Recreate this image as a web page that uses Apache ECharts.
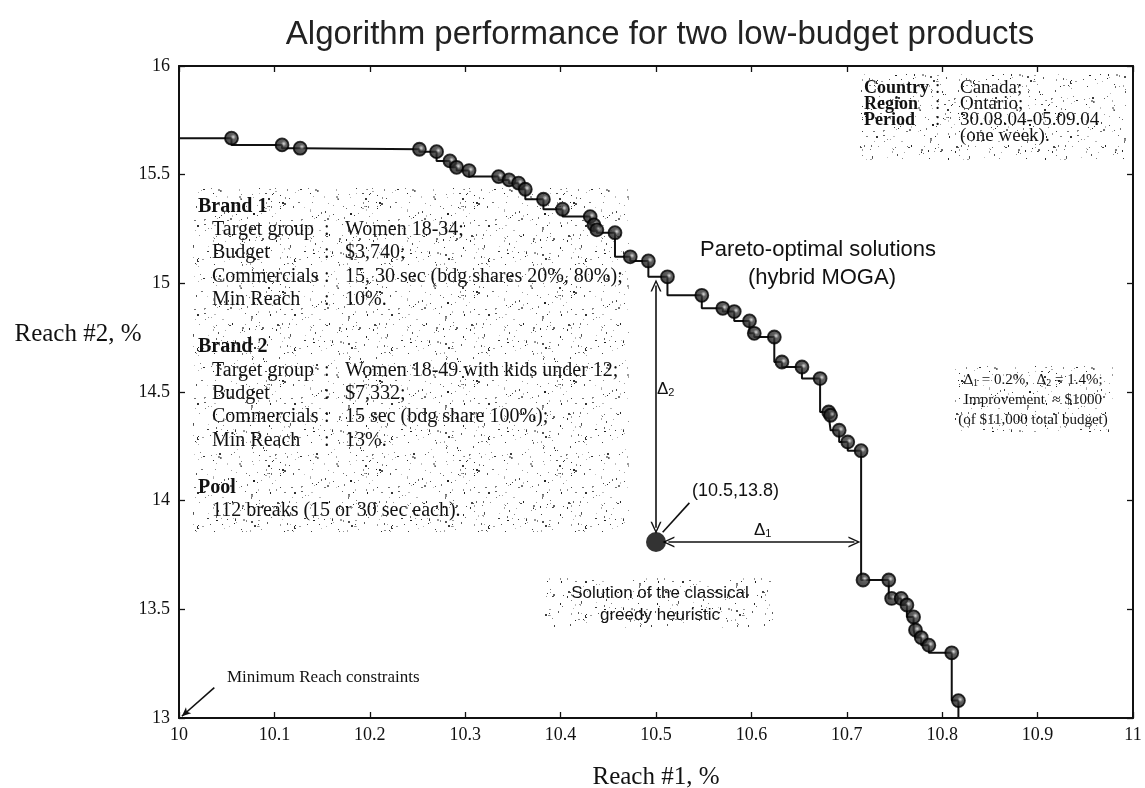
<!DOCTYPE html>
<html><head><meta charset="utf-8">
<script src="https://cdn.jsdelivr.net/npm/echarts@6/dist/echarts.min.js"></script>
<style>html,body{margin:0;padding:0;background:#fff}#c{width:1145px;height:788px}</style>
</head><body><div id="c"></div>
<script>
// ---- data ----
const xTickLabels = ['10','10.1','10.2','10.3','10.4','10.5','10.6','10.7','10.8','10.9','11'];
const yTickLabels = ['13','13.5','14','14.5','15','15.5','16'];
const paretoX = [10.055,10.108,10.127,10.252,10.270,10.284,10.291,10.304,10.335,10.346,10.356,10.363,10.382,10.402,10.431,10.435,10.438,10.457,10.473,10.492,10.512,10.548,10.570,10.582,10.598,10.603,10.624,10.632,10.653,10.672,10.681,10.683,10.692,10.701,10.715,10.717,10.744,10.747,10.757,10.763,10.770,10.772,10.778,10.786,10.810,10.817];
const paretoY = [15.668,15.637,15.622,15.617,15.606,15.563,15.534,15.519,15.491,15.476,15.461,15.433,15.387,15.341,15.307,15.269,15.246,15.233,15.122,15.103,15.030,14.945,14.885,14.870,14.827,14.770,14.753,14.638,14.615,14.562,14.408,14.393,14.324,14.270,14.230,13.635,13.635,13.550,13.550,13.520,13.465,13.405,13.370,13.335,13.300,13.080];
const curveStart = [10.0, 15.668];
const curveEnd = [10.817, 13.0];
const greedy = [10.5, 13.81];
const delta1Range = [10.513, 10.708];   // horizontal arrow (x)
const delta2Range = [13.875, 14.99];    // vertical arrow (y)
const minReachArrow = [[10.037, 13.14], [10.003, 13.008]];
const greedyLeader = [[10.507, 13.855], [10.535, 13.99]];

// ---- speckle texture (deterministic) ----
function makeSpeckle() {
  const c = document.createElement('canvas');
  c.width = 97; c.height = 89;
  const g = c.getContext('2d');
  g.fillStyle = '#ffffff'; g.fillRect(0, 0, c.width, c.height);
  let s = 12345;
  const rnd = () => { s = (s * 1103515245 + 12345) & 0x7fffffff; return s / 0x7fffffff; };
  for (let i = 0; i < 200; i++) {
    const x = Math.floor(rnd() * c.width), y = Math.floor(rnd() * c.height);
    const v = Math.floor(30 + rnd() * 170);
    g.fillStyle = 'rgb(' + v + ',' + v + ',' + v + ')';
    const w = rnd() < 0.2 ? 2 : 1, h = rnd() < 0.3 ? 2 : 1;
    g.fillRect(x, y, w, h);
  }
  return c;
}
const speckle = { image: makeSpeckle(), repeat: 'repeat' };

const SERIF = '"Liberation Serif","Times New Roman",serif';
const SANS = '"Liberation Sans",Arial,sans-serif';

const chart = echarts.init(document.getElementById('c'), null, { renderer: 'canvas' });

const chevron = 'path://M5,0 L10,11 L8.6,11 L5,3 L1.4,11 L0,11 Z';

const linePts = [curveStart].concat(paretoX.map((x, i) => [x, paretoY[i]])).concat([curveEnd]);
const markerPts = paretoX.map((x, i) => [x, paretoY[i]]);

function txt(x, y, text, opt) {
  return Object.assign({ type: 'text', x: x, y: y, z: 10,
    style: Object.assign({ text: text, font: '20px ' + SERIF, fill: '#111', verticalAlign: 'middle' }, opt || {}) });
}
function boldTxt(x, y, text, size) { return txt(x, y, text, { font: 'bold ' + (size || 20) + 'px ' + SERIF }); }

const graphics = [];
// speckled boxes
graphics.push({ type: 'rect', z: 1, shape: { x: 193, y: 188, width: 436, height: 344 }, style: { fill: speckle } });
graphics.push({ type: 'rect', z: 1, shape: { x: 860, y: 74, width: 266, height: 86 }, style: { fill: speckle } });
graphics.push({ type: 'rect', z: 1, shape: { x: 955, y: 366, width: 158, height: 66 }, style: { fill: speckle } });
graphics.push({ type: 'rect', z: 1, shape: { x: 545, y: 578, width: 228, height: 50 }, style: { fill: speckle } });

// brand box text
const colL = 212, colC = 324, colV = 345;
const brandRows = [
  ['h', 'Brand 1', 207],
  ['r', 'Target group', 'Women 18-34;', 230],
  ['r', 'Budget', '$3,740;', 253],
  ['r', 'Commercials', '15, 30 sec (bdg shares 20%, 80%);', 277],
  ['r', 'Min Reach', '10%.', 300],
  ['h', 'Brand 2', 347],
  ['r', 'Target group', 'Women 18-49 with kids under 12;', 371],
  ['r', 'Budget', '$7,332;', 394],
  ['r', 'Commercials', '15 sec (bdg share 100%);', 417],
  ['r', 'Min Reach', '13%.', 441],
  ['h', 'Pool', 488],
  ['t', '112 breaks (15 or 30 sec each).', 511]
];
brandRows.forEach(r => {
  if (r[0] === 'h') graphics.push(boldTxt(198, r[2], r[1]));
  else if (r[0] === 't') graphics.push(txt(colL, r[2], r[1]));
  else {
    graphics.push(txt(colL, r[3], r[1]));
    graphics.push(txt(colC, r[3], ':'));
    graphics.push(txt(colV, r[3], r[2]));
  }
});
// country box
[['Country', 'Canada;', 88], ['Region', 'Ontario;', 104], ['Period', '30.08.04-05.09.04', 120]].forEach(r => {
  graphics.push(boldTxt(864, r[2], r[0], 18));
  graphics.push(txt(935, r[2], ':', { font: '19px ' + SERIF }));
  graphics.push(txt(960, r[2], r[1], { font: '19px ' + SERIF }));
});
graphics.push(txt(960, 136, '(one week).', { font: '19px ' + SERIF }));

// delta box
const subRich = { s: { fontSize: 10, fontFamily: SERIF, verticalAlign: 'bottom', padding: [7, 0, 0, 0] } };
graphics.push(txt(1033, 380, 'Δ{s|1} = 0.2%,  Δ{s|2} = 1.4%;', { font: '15px ' + SERIF, align: 'center', rich: subRich }));
graphics.push(txt(1033, 400, 'Improvement  ≈ $1000', { font: '15px ' + SERIF, align: 'center' }));
graphics.push(txt(1033, 420, '(of $11,000 total budget)', { font: '15px ' + SERIF, align: 'center' }));

// pareto label
graphics.push(txt(818, 250, 'Pareto-optimal solutions', { font: '22px ' + SANS, align: 'center' }));
graphics.push(txt(822, 278, '(hybrid MOGA)', { font: '22px ' + SANS, align: 'center' }));
// greedy label
graphics.push(txt(660, 593, 'Solution of the classical', { font: '17px ' + SANS, align: 'center' }));
graphics.push(txt(660, 615, 'greedy heuristic', { font: '17px ' + SANS, align: 'center' }));
graphics.push(txt(692, 491, '(10.5,13.8)', { font: '18px ' + SANS }));
// delta labels
const subSans = { s: { fontSize: 11, verticalAlign: 'bottom', padding: [7, 0, 0, 0] } };
graphics.push(txt(657, 389, 'Δ{s|2}', { font: '17px ' + SANS, rich: subSans }));
graphics.push(txt(754, 530, 'Δ{s|1}', { font: '17px ' + SANS, rich: subSans }));
// min reach
graphics.push(txt(227, 678, 'Minimum Reach constraints', { font: '17px ' + SERIF }));
// axis names
graphics.push(txt(78, 334, 'Reach #2, %', { font: '25px ' + SERIF, align: 'center' }));
graphics.push(txt(656, 777, 'Reach #1, %', { font: '25px ' + SERIF, align: 'center' }));

const axisCommon = {
  type: 'value',
  axisLine: { show: true, lineStyle: { color: '#111', width: 2 } },
  axisTick: { show: true, inside: true, length: 6, lineStyle: { color: '#111', width: 1.3 } },
  splitLine: { show: false }
};

const option = {
  animation: false,
  backgroundColor: '#fff',
  title: {
    text: 'Algorithm performance for two low-budget products',
    left: 655, top: 13, textAlign: 'center',
    textStyle: { fontFamily: SANS, fontSize: 33, fontWeight: 'normal', color: '#222' }
  },
  grid: { left: 179, right: 12, top: 66, bottom: 70, show: false },
  xAxis: [
    Object.assign({}, axisCommon, { min: 10, max: 11, interval: 0.1, position: 'bottom',
      axisLabel: { color: '#111', fontFamily: SERIF, fontSize: 18, margin: 8,
        formatter: (v, i) => xTickLabels[i] } }),
    Object.assign({}, axisCommon, { min: 10, max: 11, interval: 0.1, position: 'top', axisLabel: { show: false } })
  ],
  yAxis: [
    Object.assign({}, axisCommon, { min: 13, max: 16, interval: 0.5, position: 'left',
      axisLabel: { color: '#111', fontFamily: SERIF, fontSize: 18, margin: 9,
        formatter: (v, i) => yTickLabels[i] } }),
    Object.assign({}, axisCommon, { min: 13, max: 16, interval: 0.5, position: 'right', axisLabel: { show: false } })
  ],
  graphic: graphics,
  series: [
    {
      type: 'line', data: linePts, step: 'start', showSymbol: false, symbol: 'none',
      lineStyle: { color: '#111', width: 2 }, z: 3, silent: true
    },
    {
      type: 'scatter', data: markerPts, symbol: 'circle', symbolSize: 13, z: 4,
      itemStyle: {
        color: { type: 'radial', x: 0.62, y: 0.42, r: 0.6,
          colorStops: [{ offset: 0, color: '#cfcfcf' }, { offset: 0.3, color: '#3a3a3a' }, { offset: 1, color: '#151515' }] },
        borderColor: '#000', borderWidth: 1.8
      }
    },
    {
      type: 'scatter', data: [greedy], symbol: 'circle', symbolSize: 20, z: 5,
      itemStyle: { color: '#000' },
      markLine: {
        silent: true, animation: false,
        label: { show: false },
        lineStyle: { color: '#111', width: 1.6, type: 'solid' },
        symbol: [chevron, chevron], symbolSize: [11, 12],
        data: [
          [{ coord: [greedy[0], delta2Range[0]] }, { coord: [greedy[0], delta2Range[1]] }],
          [{ coord: [delta1Range[0], greedy[1]] }, { coord: [delta1Range[1], greedy[1]] }],
          [{ coord: greedyLeader[0], symbol: 'none' }, { coord: greedyLeader[1], symbol: 'none' }],
          [{ coord: minReachArrow[0], symbol: 'none' }, { coord: minReachArrow[1], symbol: 'arrow', symbolSize: [6, 9] }]
        ]
      }
    }
  ]
};
chart.setOption(option);
</script>
</body></html>
